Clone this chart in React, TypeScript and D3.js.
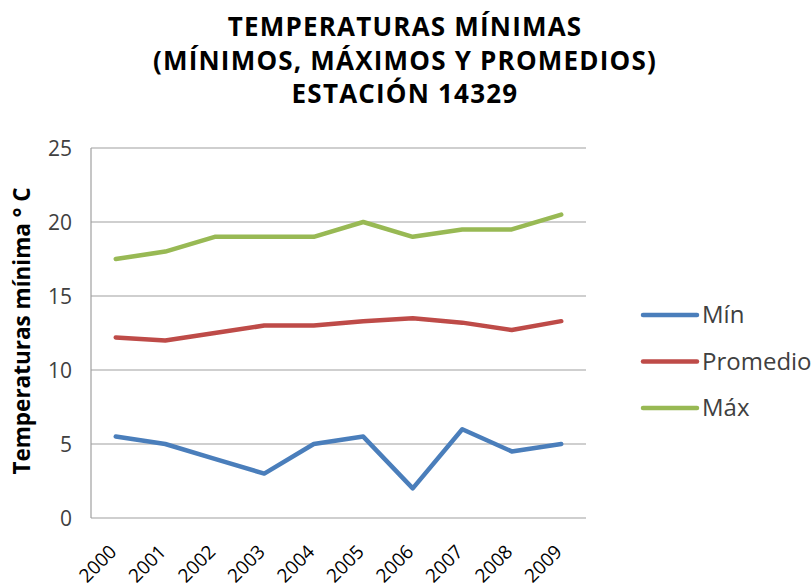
import React from "react";
import * as d3 from "d3";

const years = ["2000","2001","2002","2003","2004","2005","2006","2007","2008","2009"];
const minValues = [5.5, 5.0, 4.0, 3.0, 5.0, 5.5, 2.0, 6.0, 4.5, 5.0];
const avgValues = [12.2, 12.0, 12.5, 13.0, 13.0, 13.3, 13.5, 13.2, 12.7, 13.3];
const maxValues = [17.5, 18.0, 19.0, 19.0, 19.0, 20.0, 19.0, 19.5, 19.5, 20.5];
const yTicks = [0, 5, 10, 15, 20, 25];
const seriesNames = ["Mín", "Promedio", "Máx"];
const seriesColors = ["#4a7ebb", "#be4b48", "#98b954"];
const titleLines = ["TEMPERATURAS MÍNIMAS", "(MÍNIMOS, MÁXIMOS Y PROMEDIOS)", "ESTACIÓN 14329"];
const yTitle = "Temperaturas mínima ° C";

const W = 812, H = 587;
const plot = { left: 91, right: 586, top: 148, bottom: 518 };
const FONT = "'Open Sans', Lato, sans-serif";

export default function App() {
  const x = d3.scaleBand<string>().domain(years).range([plot.left, plot.right]);
  const y = d3.scaleLinear().domain([0, 25]).range([plot.bottom, plot.top]);
  const cx = (d: string) => (x(d) as number) + x.bandwidth() / 2;
  const line = d3.line<number>().x((_, i) => cx(years[i])).y((v) => y(v));
  const series = [minValues, avgValues, maxValues];

  return (
    <svg width={W} height={H} style={{ position: "absolute", left: 0, top: 0, background: "#fff" }}>
      <g fontFamily={FONT} fontWeight={700} fontSize={26} fill="#000" textAnchor="middle" letterSpacing={1.2}>
        {titleLines.map((t, i) => (
          <text key={t} x={405} y={36 + i * 33.5}>{t}</text>
        ))}
      </g>
      {yTicks.map((t) => (
        <line key={t} x1={plot.left} x2={plot.right} y1={y(t)} y2={y(t)} stroke="#a0a0a0" strokeWidth={1.2} />
      ))}
      <line x1={plot.left} x2={plot.left} y1={plot.top} y2={plot.bottom} stroke="#a0a0a0" strokeWidth={1.2} />
      <g fontFamily={FONT} fontSize={21} fill="#404040" textAnchor="end">
        {yTicks.map((t) => (
          <text key={t} x={72} y={y(t) + 7.5}>{t}</text>
        ))}
      </g>
      <text
        transform={`translate(30, 331) rotate(-90)`}
        textAnchor="middle" fontFamily={FONT} fontWeight={700} fontSize={22.5} fill="#000"
      >{yTitle}</text>
      <g fontFamily={FONT} fontSize={19} fill="#000" textAnchor="end">
        {years.map((yr) => (
          <text key={yr} transform={`translate(${cx(yr) + 2}, ${plot.bottom + 35}) rotate(-45)`}>{yr}</text>
        ))}
      </g>
      {series.map((s, i) => (
        <path key={i} d={line(s) || ""} fill="none" stroke={seriesColors[i]} strokeWidth={4.5}
          strokeLinejoin="round" strokeLinecap="round" />
      ))}
      {seriesNames.map((n, i) => (
        <g key={n}>
          <line x1={643} x2={697} y1={315 + i * 46.5} y2={315 + i * 46.5} stroke={seriesColors[i]} strokeWidth={4.5} strokeLinecap="round" />
          <text x={702} y={315 + i * 46.5 + 8} fontFamily={FONT} fontSize={24} fill="#404040">{n}</text>
        </g>
      ))}
    </svg>
  );
}
